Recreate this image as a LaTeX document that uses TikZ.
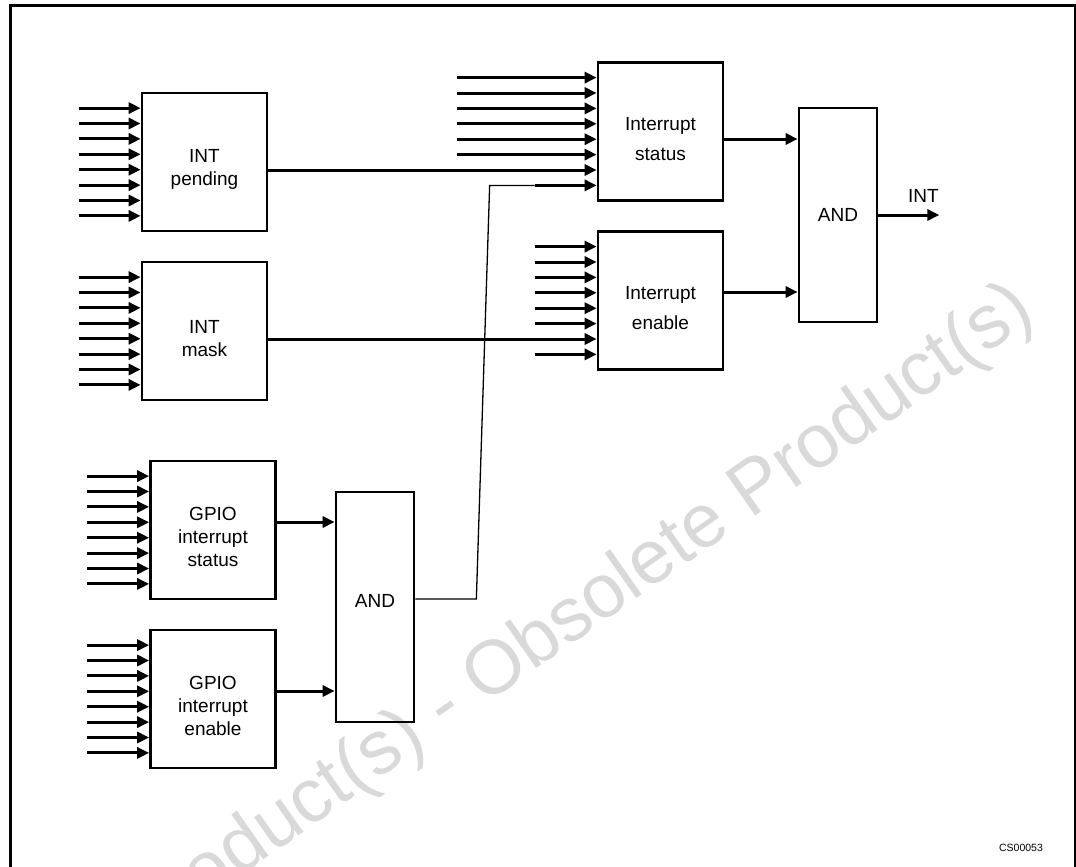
\documentclass[tikz,border=0pt]{standalone}
\usepackage{fontspec}
\setmainfont{Liberation Sans}
\usetikzlibrary{arrows.meta,positioning,calc}
\newcommand{\toppad}{\rule{0pt}{28pt}}
\tikzset{
  blk/.style={draw,line width=2.7pt,minimum width=125pt,minimum height=138pt,
    inner sep=0pt,align=center,font=\fontsize{19}{23}\selectfont},
  andblk/.style={draw,line width=2.7pt,minimum width=78pt,inner sep=0pt,
    font=\fontsize{19}{23}\selectfont},
  bus/.style={line width=3pt,-{Triangle[length=12pt,width=11pt]}},
  thinwire/.style={line width=1.3pt},
  wmark/.style={text=black!15,font=\fontsize{76}{76}\selectfont,inner sep=0pt}
}

\begin{document}
\begin{tikzpicture}[x=1pt,y=-1pt]
  \useasboundingbox (0,0) rectangle (1076,867);
  % watermark and frame
  \node[wmark,rotate=35,anchor=base east] (wm) at (1038,318)
    {Obsolete Product(s) - Obsolete Product(s)};
  \draw[line width=3pt] (10,880) -- (10,6) -- (1075,6) -- (1075,880);

  % registers
  \node[blk] (pend) at (204.5,162) {\toppad INT\\pending};
  \node[blk] (mask) at (204.5,331) {\toppad INT\\mask};
  \node[blk] (stat) at (660.5,131.5) {\toppad Interrupt\\[7pt]status};
  \node[blk] (ena) at (660.5,300.5) {\toppad Interrupt\\[7pt]enable};
  \node[blk] (gst) at (213,530) {\toppad GPIO\\interrupt\\status};
  \node[blk] (gen) at (213,699) {\toppad GPIO\\interrupt\\enable};
  \node[andblk,minimum height=214pt] (and1) at (838,215) {AND};
  \node[andblk,minimum height=230pt] (and2) at (375,607) {AND\rule[-12pt]{0pt}{0pt}};

  % input buses
  \foreach \b in {pend,mask,gst,gen}{
    \foreach \k in {0,...,7}
      \draw[bus] ([xshift=-62pt,yshift={(3.5-\k)*15.4pt}]\b.west)
        -- ([yshift={(3.5-\k)*15.4pt}]\b.west);
  }
  \foreach \k in {0,...,5}
    \draw[bus] ([xshift=-140pt,yshift={(3.5-\k)*15.4pt}]stat.west)
      -- ([yshift={(3.5-\k)*15.4pt}]stat.west);
  \foreach \k in {0,...,5,7}
    \draw[bus] ([xshift=-62pt,yshift={(3.5-\k)*15.4pt}]ena.west)
      -- ([yshift={(3.5-\k)*15.4pt}]ena.west);
  \coordinate (s6) at ([yshift=-38.5pt]stat.west);
  \coordinate (s7) at ([yshift=-53.9pt]stat.west);
  \coordinate (e6) at ([yshift=-38.5pt]ena.west);

  % connections
  \draw[bus] (pend.east |- s6) -- (s6);
  \draw[bus] (mask.east |- e6) -- (e6);
  \draw[bus] ([xshift=-62pt]s7) -- (s7);
  \draw[thinwire] ([yshift=8pt]and2.east) -- ++(61,0)
    -- ([xshift=-107pt]s7) -- ([xshift=-62pt]s7);
  \draw[bus] ([yshift=8pt]gst.east) -- ([yshift=8pt]gst.east -| and2.west);
  \draw[bus] ([yshift=8pt]gen.east) -- ([yshift=8pt]gen.east -| and2.west);
  \draw[bus] ([yshift=-7.5pt]stat.east) -- ([yshift=-7.5pt]stat.east -| and1.west);
  \draw[bus] ([yshift=8.5pt]ena.east) -- ([yshift=8.5pt]ena.east -| and1.west);
  \coordinate (intout) at ([xshift=61pt]and1.east);
  \draw[bus] (and1) -- (intout)
    node[pos=0.74,above=8pt,font=\fontsize{19}{23}\selectfont] (intlbl) {INT};

  \node[font=\fontsize{10.5}{12}\selectfont] (code) at (1021,848) {CS00053};
\end{tikzpicture}
\end{document}
